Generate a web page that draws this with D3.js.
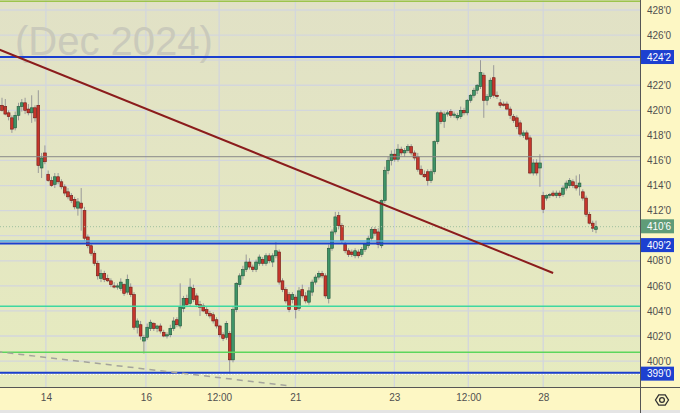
<!DOCTYPE html>
<html><head><meta charset="utf-8">
<script src="https://cdn.jsdelivr.net/npm/d3@7"></script>
<style>html,body{margin:0;padding:0;background:#fff;}svg{display:block;}</style>
</head><body>
<svg id="c" width="680" height="413"></svg>
<script>
// ---- DATA ----
const candles = [ // [open, high, low, close]
[420.4,421.0,419.9,420.0],[420.3,420.9,419.6,419.7],[419.8,420.0,419.2,419.5],[419.4,419.6,418.2,418.5],
[418.6,419.9,418.4,419.6],[419.6,420.6,419.2,420.3],[420.3,420.9,419.9,420.6],[420.6,421.0,419.7,420.0],
[420.1,420.5,419.6,419.8],[419.8,421.2,419.0,420.2],[420.2,420.4,419.1,419.4],[420.4,421.6,415.0,415.6],
[415.4,416.6,414.6,416.2],[416.6,417.2,415.7,415.9],[414.9,415.2,414.3,414.4],[414.4,414.7,413.9,414.0],
[414.1,415.0,413.8,414.7],[414.7,415.0,414.1,414.3],[414.3,414.5,413.7,413.9],[413.9,414.1,413.2,413.4],
[413.5,413.8,412.9,413.1],[413.2,413.4,412.6,412.8],[412.9,413.1,412.1,412.3],[412.2,413.0,411.6,412.7],
[412.6,413.8,410.4,412.2],[412.0,412.3,409.6,409.8],[409.9,410.1,409.0,409.2],[409.2,409.4,408.4,408.6],
[408.6,408.8,407.6,407.8],[407.8,408.0,406.5,406.8],[406.6,407.3,406.3,407.0],[407.0,407.2,406.3,406.5],
[406.6,406.9,406.3,406.4],[406.4,406.6,405.9,406.1],[406.0,406.3,405.8,405.9],[405.9,406.2,405.7,406.0],
[405.8,406.6,405.6,406.3],[406.1,406.2,405.2,405.4],[405.5,406.9,405.3,406.5],[405.9,406.2,405.1,405.3],
[405.3,405.5,402.5,402.7],[402.7,403.4,402.2,403.2],[402.9,403.2,401.7,402.0],[401.6,402.1,400.6,401.9],
[401.9,403.0,401.7,402.7],[402.6,403.3,402.4,403.1],[403.0,403.1,402.4,402.6],[402.6,402.9,402.3,402.8],
[402.8,403.0,402.2,402.4],[402.3,402.5,401.9,402.0],[402.0,402.3,401.8,402.1],[402.1,402.9,401.9,402.6],
[402.6,403.5,402.4,403.2],[403.3,403.5,402.7,402.9],[402.8,406.2,402.6,404.3],[404.2,405.2,403.9,405.0],
[405.0,405.3,404.3,404.5],[404.6,406.6,404.4,405.9],[405.8,406.1,404.7,404.9],[405.2,405.4,404.3,404.5],
[404.5,404.8,403.6,404.3],[404.4,404.6,403.9,404.0],[404.1,404.3,403.6,403.8],[403.8,404.0,403.4,403.6],
[403.7,403.9,403.0,403.2],[403.3,403.5,402.6,402.8],[402.8,402.9,401.9,402.1],[402.1,402.3,401.6,401.8],
[401.9,403.2,401.7,403.0],[402.2,402.4,399.0,400.1],[400.1,404.3,399.9,404.1],[404.1,406.3,403.9,406.2],
[406.1,407.0,405.9,406.8],[406.8,407.6,406.5,407.3],[407.3,408.5,407.1,407.9],[407.9,408.2,407.3,407.5],
[407.5,407.7,407.1,407.3],[407.3,408.1,407.1,407.9],[407.8,408.5,407.6,408.3],[408.1,408.3,407.6,407.8],
[407.8,408.6,407.6,408.4],[408.4,408.6,407.8,408.0],[407.9,408.6,407.5,408.4],[408.4,409.5,408.2,408.8],
[408.7,408.9,406.1,406.3],[406.4,406.6,405.5,405.7],[405.7,405.9,404.6,404.8],[405.3,405.5,403.9,404.1],
[404.9,405.5,404.6,405.3],[405.1,405.3,403.4,404.1],[404.2,405.9,404.0,405.6],[405.7,406.1,405.0,405.2],
[405.2,405.5,404.6,404.8],[404.7,405.9,404.5,405.6],[405.5,406.5,405.2,406.3],[406.3,406.9,406.1,406.7],
[406.7,407.2,406.5,407.0],[407.0,407.2,406.6,406.8],[406.8,407.0,405.0,405.2],[405.0,409.3,404.6,409.0],
[409.0,410.5,408.8,410.3],[410.3,411.9,410.1,411.5],[411.6,411.9,410.5,410.8],[410.8,411.0,409.4,409.6],
[409.3,409.5,408.6,408.8],[408.8,409.0,408.3,408.5],[408.7,408.9,408.3,408.5],[408.4,409.0,408.2,408.8],
[408.7,408.9,408.2,408.4],[408.5,409.1,408.3,408.9],[408.9,409.4,408.7,409.3],[409.2,410.0,409.0,409.8],
[409.8,410.7,409.6,410.5],[410.5,410.7,410.0,410.2],[410.3,410.6,409.0,409.3],[409.2,412.9,409.0,412.8],
[412.8,415.5,412.6,415.2],[415.2,416.3,414.9,416.0],[416.0,416.8,415.6,416.5],[416.5,416.9,415.9,416.1],
[416.1,417.3,415.9,416.9],[416.9,417.1,416.4,416.6],[416.6,417.0,416.3,416.8],[416.8,417.3,416.6,417.1],
[417.1,417.3,416.4,416.6],[416.6,416.8,416.0,416.2],[416.3,416.6,415.1,415.3],[415.3,415.6,414.8,414.9],
[414.9,415.2,414.6,414.7],[415.1,415.3,414.0,414.4],[414.4,415.3,414.2,415.1],[415.1,417.6,414.9,417.5],
[417.5,419.9,417.3,419.8],[419.8,420.0,418.9,419.1],[419.1,419.9,418.6,419.7],[419.7,420.0,419.5,419.8],
[419.9,420.1,419.4,419.6],[419.6,419.9,419.4,419.7],[419.4,419.8,419.2,419.6],[419.5,420.3,419.3,420.0],
[420.0,420.2,419.6,419.8],[419.8,420.9,419.6,420.8],[420.8,421.3,420.6,421.2],[421.2,421.8,421.0,421.6],
[421.6,422.1,421.3,422.0],[421.9,424.0,421.7,423.0],[422.8,423.0,419.4,420.8],[420.8,421.3,420.4,421.1],
[421.1,422.6,420.9,422.4],[422.6,423.6,421.0,421.2],[421.2,421.5,420.9,421.1],[420.6,420.9,420.2,420.4],
[420.5,420.7,420.3,420.4],[420.5,420.7,420.0,420.1],[420.1,420.3,419.3,419.6],[419.5,419.7,419.0,419.2],
[419.4,419.6,418.5,418.7],[419.0,419.2,417.9,418.1],[418.0,418.4,417.8,418.2],[418.2,418.4,417.6,417.7],
[417.8,418.0,414.9,415.0],[415.0,416.1,414.8,415.8],[415.8,416.1,414.8,415.0],[415.4,416.5,413.9,415.8],
[413.2,413.5,411.8,412.1],[413.0,413.3,412.8,413.2],[413.2,413.4,413.0,413.3],[413.4,413.6,413.1,413.2],
[413.2,413.6,413.0,413.4],[413.4,413.6,413.0,413.2],[413.3,414.0,413.1,413.8],[413.8,414.4,413.6,414.2],
[414.0,414.6,413.8,414.4],[414.3,414.5,413.8,414.0],[414.0,414.8,413.6,413.8],[413.9,414.9,413.2,414.2],
[413.5,413.7,412.8,413.0],[413.0,413.2,411.5,411.7],[411.7,411.9,410.9,411.0],[411.0,411.2,410.3,410.6],
[410.5,411.2,410.2,410.75]
];
const priceTicks = [400,402,404,406,408,410,412,414,416,418,420,422,424,426,428];
const xTickPos = [13.3, 43.6, 65.8, 88.9, 118.9, 141.3, 164.0];
const xTickLabels = ["14","16","12:00","21","23","12:00","28"];
const levels = [428.7, 424.25, 416.3, 410.72, 409.58, 409.38, 404.37, 400.71, 399.08, 398.93];
const priceTags = [424.25, 410.75, 409.25, 399.0];
const trendLine = [[-5, 425.28], [167, 407.03]];
const dashedLine = [[-5, 400.86], [87.3, 398.02]];
const titleText = "(Dec 2024)";

// ---- STYLES ----
const levelStyles = [
  {c:"#9cc44c", w:1.5}, {c:"#1a3fcf", w:2}, {c:"#8a8a8a", w:1},
  {c:"#9fbf9f", w:1, d:"1,2"}, {c:"#4aa8e8", w:1.5}, {c:"#1a3fcf", w:2},
  {c:"#3fd8a0", w:1.5}, {c:"#5cd65c", w:1.5}, {c:"#1a3fcf", w:2}, {c:"#ffffff", w:1, d:"1,2"}
];
const tagColors = ["#1d40d0", "#5f9c78", "#1d40d0", "#1d40d0"];

const W = 680, H = 413, PR = 640, PB = 387;
const svg = d3.select("#c");
const x = d3.scaleLinear().domain([0, 180]).range([2, 596]);
const y = d3.scaleLinear().domain([428, 400]).range([10, 361.1]);
const fmt = p => { const f = Math.floor(p + 1e-9); return f + "'" + Math.round((p - f) * 8); };

const defs = svg.append("defs");
const gr = defs.append("linearGradient").attr("id","bg").attr("x1",0).attr("y1",0).attr("x2",0).attr("y2",1);
gr.append("stop").attr("offset","0%").attr("stop-color","#e1e1c6");
gr.append("stop").attr("offset","100%").attr("stop-color","#e6ebbf");
defs.append("clipPath").attr("id","clip").append("rect").attr("x",0).attr("y",0).attr("width",PR).attr("height",PB);

svg.append("rect").attr("x",0).attr("y",0).attr("width",PR).attr("height",PB).attr("fill","url(#bg)");

const plot = svg.append("g").attr("clip-path","url(#clip)");
// grid
plot.selectAll(".hg").data(priceTicks).enter().append("line")
  .attr("x1",0).attr("x2",PR).attr("y1",d=>y(d)).attr("y2",d=>y(d))
  .attr("stroke","#d3d6dc").attr("stroke-width",1.3);
plot.selectAll(".vg").data(xTickPos).enter().append("line")
  .attr("y1",0).attr("y2",PB).attr("x1",d=>x(d)).attr("x2",d=>x(d))
  .attr("stroke","#d3d6dc").attr("stroke-width",1.3);

// title watermark
plot.append("text").attr("x",15).attr("y",55).text(titleText)
  .attr("font-family","'Liberation Sans', Arial, sans-serif").attr("font-size",40)
  .attr("fill","#cacabb");

// candles
const cg = plot.append("g");
cg.selectAll(".w").data(candles).enter().append("line")
  .attr("x1",(d,i)=>x(i)).attr("x2",(d,i)=>x(i))
  .attr("y1",d=>y(d[1])).attr("y2",d=>y(d[2]))
  .attr("stroke","#999999").attr("stroke-width",1);
cg.selectAll(".b").data(candles).enter().append("rect")
  .attr("x",(d,i)=>x(i)-1.4).attr("width",2.8)
  .attr("y",d=>y(Math.max(d[0],d[3])))
  .attr("height",d=>Math.max(1, Math.abs(y(d[0])-y(d[3]))))
  .attr("fill",d=>d[3]>=d[0]?"#3f9468":"#c5362c")
  .attr("stroke",d=>d[3]>=d[0]?"#22573a":"#6e1a14").attr("stroke-width",0.6);

// levels
plot.selectAll(".lv").data(levels).enter().append("line")
  .attr("x1",0).attr("x2",PR).attr("y1",d=>y(d)).attr("y2",d=>y(d))
  .attr("stroke",(d,i)=>levelStyles[i].c).attr("stroke-width",(d,i)=>levelStyles[i].w)
  .attr("stroke-dasharray",(d,i)=>levelStyles[i].d||null);

// trend lines
const ln = d3.line().x(d=>x(d[0])).y(d=>y(d[1]));
plot.append("path").attr("d",ln(dashedLine)).attr("fill","none")
  .attr("stroke","#a4a49c").attr("stroke-width",1.5).attr("stroke-dasharray","6,5");
plot.append("path").attr("d",ln(trendLine)).attr("fill","none")
  .attr("stroke","#8b1c1c").attr("stroke-width",2);

// axes backgrounds
svg.append("rect").attr("x",PR).attr("y",0).attr("width",W-PR).attr("height",H).attr("fill","#fdf7c4");
svg.append("rect").attr("x",0).attr("y",PB).attr("width",W).attr("height",23).attr("fill","#fdf7c4");
svg.append("rect").attr("x",0).attr("y",410).attr("width",W).attr("height",3).attr("fill","#e4e4e4");
svg.append("line").attr("x1",PR+0.5).attr("x2",PR+0.5).attr("y1",0).attr("y2",H).attr("stroke","#555").attr("stroke-width",1);
svg.append("line").attr("x1",0).attr("x2",W).attr("y1",PB+0.5).attr("y2",PB+0.5).attr("stroke","#555").attr("stroke-width",1);

const font = "'Liberation Sans', Arial, sans-serif";
// right axis (ticks that would sit under a price tag are left out)
const shownTicks = priceTicks.filter(p => priceTags.every(t => Math.abs(y(t)-y(p)) > 11));
const ra = svg.append("g").attr("transform",`translate(${PR+7},0)`)
  .call(d3.axisRight(y).tickValues(shownTicks).tickFormat(fmt).tickSize(0).tickPadding(0));
ra.select(".domain").remove();
ra.selectAll("text").attr("font-family",font).attr("font-size",10).attr("fill","#505050");

// bottom axis
const ba = svg.append("g").attr("transform",`translate(0,${PB})`)
  .call(d3.axisBottom(x).tickValues(xTickPos).tickFormat((d,i)=>xTickLabels[i]).tickSize(0).tickPadding(7));
ba.select(".domain").remove();
ba.selectAll("text").attr("font-family",font).attr("font-size",10).attr("fill","#505050");

// price tags
const tg = svg.selectAll(".tag").data(priceTags).enter().append("g");
tg.append("rect").attr("x",PR+1).attr("width",33).attr("y",d=>y(d)-7).attr("height",14)
  .attr("fill",(d,i)=>tagColors[i]);
tg.append("text").attr("x",PR+7).attr("y",d=>y(d)).attr("dy","0.35em").text(fmt)
  .attr("font-family",font).attr("font-size",10).attr("fill","#fff");

// settings icon
const cx = 662, cy = 400;
const hex = d3.range(6).map(k => [cx + 6.5*Math.cos(k*Math.PI/3), cy + 6*Math.sin(k*Math.PI/3)]);
svg.append("path").attr("d","M"+hex.join("L")+"Z").attr("fill","none").attr("stroke","#333").attr("stroke-width",1.3);
svg.append("circle").attr("cx",cx).attr("cy",cy).attr("r",2.4).attr("fill","none").attr("stroke","#333").attr("stroke-width",1.3);
</script>
</body></html>
